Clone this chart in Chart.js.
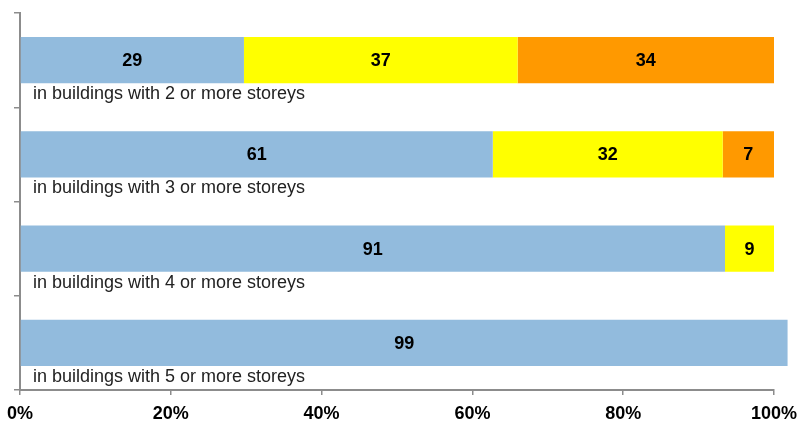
<!DOCTYPE html>
<html>
<script src="https://cdn.jsdelivr.net/npm/chart.js@4/dist/chart.umd.min.js"></script>
<body style="margin:0; background:#fff;">
  <div style="width:798px; height:423px;">
    <canvas id="storeys"></canvas>
  </div>
  <script>
    const categories = [
      "in buildings with 2 or more storeys",
      "in buildings with 3 or more storeys",
      "in buildings with 4 or more storeys",
      "in buildings with 5 or more storeys"
    ];
    // bar lengths as drawn in the picture (share of the axis, %)
    const blueShare = [29.7, 62.7, 93.5, 101.8];
    const yellowShare = [36.3, 30.5, 6.5, 0];
    const orangeShare = [34.0, 6.8, 0, 0];
    // numbers printed on the segments
    const blueLabels = [29, 61, 91, 99];
    const yellowLabels = [37, 32, 9, null];
    const orangeLabels = [34, 7, null, null];
    const xTicks = [0, 20, 40, 60, 80, 100];

    const font = "'Liberation Sans', Arial, sans-serif";

    const labelPlugin = {
      id: "labels",
      afterDatasetsDraw(chart) {
        const ctx = chart.ctx;
        const printed = [blueLabels, yellowLabels, orangeLabels];
        ctx.save();
        ctx.textAlign = "center";
        ctx.textBaseline = "middle";
        ctx.fillStyle = "#000";
        ctx.font = "bold 18px " + font;
        chart.data.datasets.forEach((ds, d) => {
          const meta = chart.getDatasetMeta(d);
          meta.data.forEach((bar, i) => {
            if (printed[d][i] == null) return;
            ctx.fillText(printed[d][i], (bar.x + bar.base) / 2, bar.y + 1);
          });
        });
        ctx.textAlign = "left";
        ctx.fillStyle = "#222";
        ctx.font = "18px " + font;
        const first = chart.getDatasetMeta(0);
        first.data.forEach((bar, i) => {
          ctx.fillText(categories[i], chart.chartArea.left + 13, bar.y + bar.height / 2 + 11);
        });
        ctx.restore();
      }
    };

    new Chart("storeys", {
      type: "bar",
      data: {
        labels: categories,
        datasets: [
          { data: blueShare, backgroundColor: "#92BBDD" },
          { data: yellowShare, backgroundColor: "#FFFF00" },
          { data: orangeShare, backgroundColor: "#FF9900" }
        ]
      },
      options: {
        indexAxis: "y",
        responsive: true,
        maintainAspectRatio: false,
        animation: false,
        datasets: { bar: { barPercentage: 0.49, categoryPercentage: 1, clip: false } },
        layout: { padding: { left: 14, right: 24, top: 13, bottom: 0 } },
        plugins: { legend: { display: false }, tooltip: { enabled: false } },
        scales: {
          x: {
            stacked: true,
            min: 0,
            max: 100,
            afterBuildTicks: (axis) => { axis.ticks = xTicks.map((v) => ({ value: v })); },
            afterFit: (s) => { s.paddingLeft = 0; s.paddingRight = 0; s.height = 33; },
            border: { color: "#8c8c8c", width: 2 },
            grid: { display: true, drawOnChartArea: false, color: "#8c8c8c", tickLength: 5, lineWidth: 1.5 },
            ticks: {
              color: "#000",
              padding: 10,
              maxRotation: 0,
              font: { family: font, size: 18, weight: "bold", lineHeight: 1 },
              callback: (v) => v + "%"
            }
          },
          y: {
            stacked: true,
            offset: true,
            afterFit: (s) => { s.width = 6; s.paddingTop = 0; s.paddingBottom = 0; },
            border: { color: "#8c8c8c", width: 2 },
            grid: { display: true, offset: true, drawOnChartArea: false, color: "#8c8c8c", tickLength: 6, lineWidth: 1.5 },
            ticks: { display: false }
          }
        }
      },
      plugins: [labelPlugin]
    });
  </script>
</body>
</html>
